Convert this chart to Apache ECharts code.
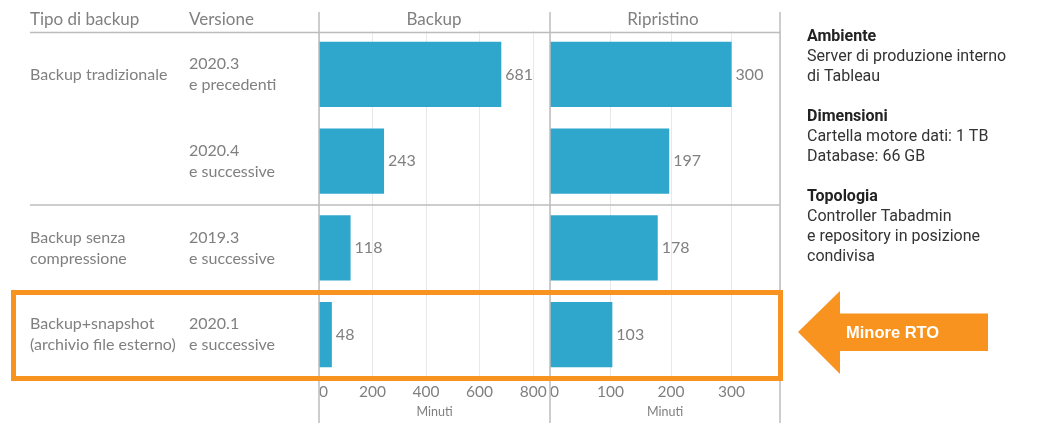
<!DOCTYPE html>
<html>
<head>
<meta charset="utf-8">
<script src="https://cdn.jsdelivr.net/npm/echarts@6/dist/echarts.min.js"></script>
<style>
  html, body { margin: 0; padding: 0; background: #fff; }
  #chart { width: 1039px; height: 423px; }
</style>
</head>
<body>
<div id="chart"></div>
<script>
// righe della tabella (dall'alto in basso)
const tipi = ['Backup tradizionale', '', 'Backup senza\ncompressione', 'Backup+snapshot\n(archivio file esterno)'];
const versioni = ['2020.3\ne precedenti', '2020.4\ne successive', '2019.3\ne successive', '2020.1\ne successive'];
const backupMinuti = [681, 243, 118, 48];
const ripristinoMinuti = [300, 197, 178, 103];

// assi
const backupMax = 863, backupStep = 200;
const ripristinoMax = 380, ripristinoStep = 100;

const note = [
  ['Ambiente', 'Server di produzione interno', 'di Tableau'],
  ['Dimensioni', 'Cartella motore dati: 1 TB', 'Database: 66 GB'],
  ['Topologia', 'Controller Tabadmin', 'e repository in posizione', 'condivisa'],
];

const grigio = '#808080';
const linea = '#bcbcbc';
const blu = '#2fa6cb';
const arancio = '#f7931e';
const font = 'Lato';

function valueAxis(gridIndex, max, step) {
  return {
    type: 'value',
    gridIndex,
    min: 0,
    max,
    interval: step,
    name: 'Minuti',
    nameLocation: 'middle',
    nameGap: 27,
    nameTextStyle: { color: grigio, fontSize: 12.5, fontFamily: font },
    axisLine: { show: false },
    axisTick: { show: false },
    axisLabel: {
      color: grigio,
      fontSize: 15.5,
      fontFamily: font,
      margin: 6,
      showMaxLabel: false,
      alignMinLabel: 'left',
      formatter: (v) => (v % step === 0 ? String(v) : ''),
    },
    splitLine: { show: true, lineStyle: { color: '#e8e8e8', width: 1 } },
  };
}

function labelAxis(data, margin) {
  return {
    type: 'category',
    gridIndex: 0,
    position: 'left',
    inverse: true,
    data,
    axisLine: { show: false },
    axisTick: { show: false },
    axisLabel: {
      interval: 0,
      align: 'left',
      margin,
      color: grigio,
      fontSize: 16,
      lineHeight: 21,
      fontFamily: font,
    },
  };
}

function barSeries(name, data, idx) {
  return {
    name,
    type: 'bar',
    xAxisIndex: idx,
    yAxisIndex: idx === 0 ? 0 : 2,
    data,
    barWidth: '75%',
    itemStyle: { color: blu },
    label: {
      show: true,
      position: 'right',
      distance: 4,
      color: grigio,
      fontSize: 16,
      fontFamily: font,
    },
    silent: true,
  };
}

// testo note a destra
const noteText = note.map((g) => ['{b|' + g[0] + '}'].concat(g.slice(1)).join('\n')).join('\n\n');

const option = {
  backgroundColor: '#fff',
  animation: false,
  grid: [
    { left: 319, width: 231, top: 31, height: 351 },
    { left: 550, width: 230, top: 31, height: 351 },
  ],
  xAxis: [valueAxis(0, backupMax, backupStep), valueAxis(1, ripristinoMax, ripristinoStep)],
  yAxis: [
    labelAxis(versioni, 130),
    labelAxis(tipi, 289),
    {
      type: 'category',
      gridIndex: 1,
      inverse: true,
      data: versioni,
      show: false,
    },
  ],
  series: [barSeries('Backup', backupMinuti, 0), barSeries('Ripristino', ripristinoMinuti, 1)],
  graphic: [
    // intestazioni
    { type: 'text', x: 30, y: 20, style: { text: 'Tipo di backup', fill: grigio, font: '17px ' + font, verticalAlign: 'middle' } },
    { type: 'text', x: 189, y: 20, style: { text: 'Versione', fill: grigio, font: '17px ' + font, verticalAlign: 'middle' } },
    { type: 'text', x: 434, y: 20, style: { text: 'Backup', fill: grigio, font: '17px ' + font, align: 'center', verticalAlign: 'middle' } },
    { type: 'text', x: 663, y: 20, style: { text: 'Ripristino', fill: grigio, font: '17px ' + font, align: 'center', verticalAlign: 'middle' } },
    // linee della tabella
    { type: 'line', shape: { x1: 30, y1: 32.5, x2: 780, y2: 32.5 }, style: { stroke: linea, lineWidth: 1.5 }, z: 5 },
    { type: 'line', shape: { x1: 30, y1: 205, x2: 780, y2: 205 }, style: { stroke: linea, lineWidth: 1.5 }, z: 5 },
    { type: 'line', shape: { x1: 319, y1: 12, x2: 319, y2: 423 }, style: { stroke: linea, lineWidth: 1.5 }, z: 5 },
    { type: 'line', shape: { x1: 550, y1: 12, x2: 550, y2: 423 }, style: { stroke: linea, lineWidth: 1.5 }, z: 5 },
    { type: 'line', shape: { x1: 780, y1: 12, x2: 780, y2: 423 }, style: { stroke: linea, lineWidth: 1.5 }, z: 5 },
    // evidenziazione
    {
      type: 'rect',
      shape: { x: 13.5, y: 292.5, width: 767, height: 86 },
      style: { fill: 'none', stroke: arancio, lineWidth: 5 },
      z: 20,
    },
    {
      type: 'polygon',
      shape: { points: [[798, 332], [840, 291], [840, 313.5], [988, 313.5], [988, 351], [840, 351], [840, 374]] },
      style: { fill: arancio },
      z: 20,
    },
    {
      type: 'text',
      x: 846,
      y: 333,
      style: { text: 'Minore RTO', fill: '#fff', font: 'bold 16.5px "Liberation Sans"', verticalAlign: 'middle' },
      z: 21,
    },
    // note
    {
      type: 'text',
      x: 807,
      y: 27,
      style: {
        text: noteText,
        fill: '#333',
        font: '16px Roboto',
        lineHeight: 20,
        rich: { b: { fontWeight: 'bold', fill: '#222', fontSize: 16, fontFamily: 'Roboto', lineHeight: 20 } },
      },
    },
  ],
};

const chart = echarts.init(document.getElementById('chart'), null, { renderer: 'canvas' });
chart.setOption(option);
</script>
</body>
</html>
